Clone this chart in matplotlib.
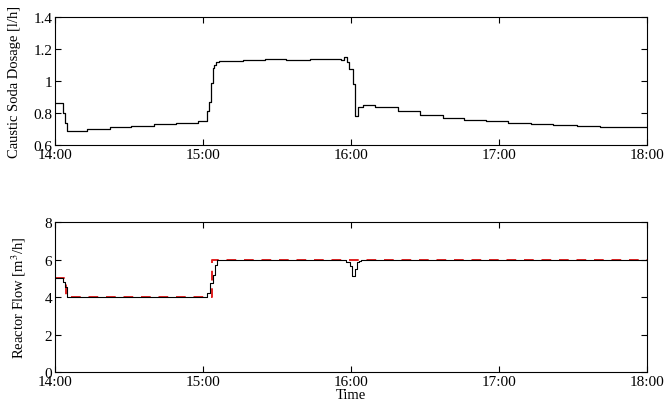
import numpy as np
import matplotlib
matplotlib.use("Agg")
import matplotlib.pyplot as plt

plt.rcParams['font.family'] = ['Liberation Serif', 'DejaVu Serif']
plt.rcParams['font.size'] = 10.5
plt.rcParams['mathtext.fontset'] = 'stix'

# Caustic soda dosage: step changes (minutes after 14:00, l/h)
dose_t = [0, 3.1, 4.0, 5.0, 13.1, 22.3, 31.0, 40.2, 49.2, 58.0, 61.8, 62.6, 63.2,
          64.0, 64.5, 65.2, 66.5, 76.2, 85.0, 93.7, 103.2, 116.0, 117.3, 118.4,
          119.0, 120.7, 121.8, 122.7, 124.7, 129.9, 138.9, 148.0, 157.1, 165.9,
          174.6, 183.8, 192.9, 201.9, 211.7, 220.8, 240.0]
dose_v = [0.86, 0.80, 0.74, 0.69, 0.70, 0.715, 0.72, 0.73, 0.74, 0.75, 0.81, 0.87, 0.99,
          1.08, 1.10, 1.12, 1.127, 1.132, 1.137, 1.129, 1.136, 1.133, 1.15, 1.12,
          1.075, 0.98, 0.784, 0.84, 0.85, 0.84, 0.814, 0.787, 0.77, 0.756,
          0.747, 0.738, 0.729, 0.722, 0.72, 0.715, 0.715]

# Reactor flow, measured (black) and setpoint (red dashed)
flow_t = [0, 3.1, 4.0, 5.0, 61.8, 62.7, 64.0, 64.7, 65.7, 118.0, 119.4, 120.4,
          121.8, 122.3, 123.1, 124.1, 124.7, 240.0]
flow_v = [5.0, 4.83, 4.56, 4.0, 4.2, 4.74, 5.2, 5.7, 6.0, 5.88, 5.67, 5.12,
          5.52, 5.85, 5.9, 5.95, 6.0, 6.0]
sp_t = [0, 4.5, 63.8, 240.0]
sp_v = [5.0, 4.0, 6.0, 6.0]

ticks = [0, 60, 120, 180, 240]
tick_labels = ['14:00', '15:00', '16:00', '17:00', '18:00']

fig = plt.figure(figsize=(6.67, 4.10), dpi=100)
ax1 = fig.add_axes([0.0825, 0.644, 0.8875, 0.312])
ax2 = fig.add_axes([0.0825, 0.090, 0.8875, 0.366])

ax1.step(dose_t, dose_v, where='post', color='black', lw=0.9)
ax1.set_xlim(0, 240)
ax1.set_ylim(0.6, 1.4)
ax1.set_yticks([0.6, 0.8, 1.0, 1.2, 1.4])
ax1.set_yticklabels(['0.6', '0.8', '1', '1.2', '1.4'])
ax1.set_ylabel('Caustic Soda Dosage [l/h]')
ax1.yaxis.set_label_coords(-0.057, 0.5)

# setpoint underneath, measured flow on top
ax2.step(sp_t, sp_v, where='post', color='#e02020', lw=1.4, ls='--', dashes=(5, 4))
ax2.step(flow_t, flow_v, where='post', color='black', lw=0.8)
ax2.set_xlim(0, 240)
ax2.set_ylim(0, 8)
ax2.set_yticks([0, 2, 4, 6, 8])
ax2.set_ylabel('Reactor Flow [m$^3$/h]')
ax2.yaxis.set_label_coords(-0.045, 0.5)
ax2.set_xlabel('Time', labelpad=0)

for ax in (ax1, ax2):
    ax.set_xticks(ticks)
    ax.set_xticklabels(tick_labels)
    ax.tick_params(direction='in', length=4, top=True, right=True, pad=2,
                   labelsize=11)

fig.savefig('out.png', dpi=100)
